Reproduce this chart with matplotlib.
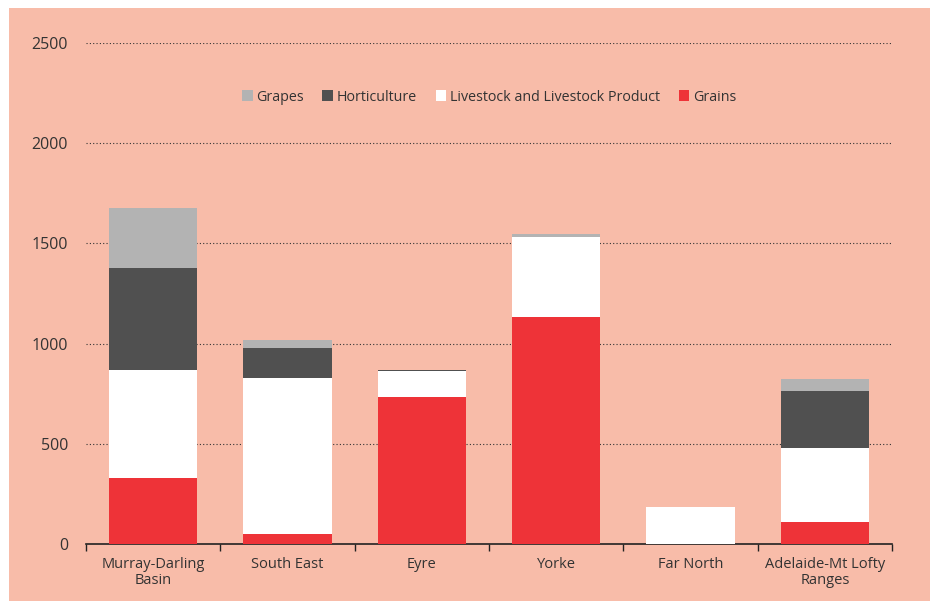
import numpy as np
import matplotlib.pyplot as plt
from matplotlib.patches import Rectangle

plt.rcParams['font.family'] = ['Open Sans', 'DejaVu Sans']

regions = ['Murray-Darling\nBasin', 'South East', 'Eyre', 'Yorke', 'Far North',
           'Adelaide-Mt Lofty\nRanges']
grains = [329, 48, 733, 1133, 0, 111]
livestock = [539, 780, 132, 399, 185, 368]
horticulture = [509, 150, 2, 0, 0, 284]
grapes = [300, 40, 3, 15, 0, 60]

series = [('Grapes', grapes, '#b3b3b3'),
          ('Horticulture', horticulture, '#505050'),
          ('Livestock and Livestock Product', livestock, '#ffffff'),
          ('Grains', grains, '#ee3338')]

bg = '#f8bca9'
txt = '#333333'

fig = plt.figure(figsize=(9.38, 6.01), dpi=100)
fig.patches.append(Rectangle((9 / 938, 0), 921 / 938, 593 / 601,
                             transform=fig.transFigure, facecolor=bg,
                             edgecolor='none', zorder=-10))
ax = fig.add_axes([86 / 938, 1 - 544 / 601, 806 / 938, 501 / 601])
ax.set_facecolor('none')
ax.set_zorder(5)

x = np.arange(len(regions))
bottom = np.zeros(len(regions))
# stack from the bottom: grains first
for name, vals, col in reversed(series):
    ax.bar(x, vals, 0.66, bottom=bottom, color=col, linewidth=0,
           label=name, zorder=3)
    bottom += np.array(vals)

ax.set_xlim(-0.5, len(regions) - 0.5)
ax.set_ylim(0, 2500)
ax.set_yticks(range(0, 2501, 500))
for v in range(500, 2501, 500):
    ax.axhline(v, color='#333333', linestyle=(0, (1, 2)), linewidth=0.8, zorder=1)

ax.set_xticks(x)
ax.set_xticklabels(regions, fontsize=10.5, color=txt, linespacing=1.1)
ax.set_xticks(np.arange(-0.5, len(regions)), minor=True)
ax.tick_params(axis='x', which='major', length=0, pad=9)
ax.tick_params(axis='x', which='minor', length=5, width=1, color='#222222',
               direction='out')
ax.tick_params(axis='y', length=0, pad=13, labelsize=11.5, labelcolor=txt)

for s in ['top', 'right', 'left']:
    ax.spines[s].set_visible(False)
ax.spines['bottom'].set_color('#222222')
ax.spines['bottom'].set_linewidth(1.2)

handles, labels = ax.get_legend_handles_labels()
order = [labels.index(s[0]) for s in series]
leg = ax.legend([handles[i] for i in order], [labels[i] for i in order],
                loc='center', bbox_to_anchor=(0.5, 0.892), ncol=4, frameon=False,
                fontsize=10.3, handlelength=0.75, handleheight=0.75,
                handletextpad=0.25, columnspacing=1.3, labelcolor=txt)
for h in leg.legend_handles:
    h.set_edgecolor('none')

fig.savefig('out.png', dpi=100)
